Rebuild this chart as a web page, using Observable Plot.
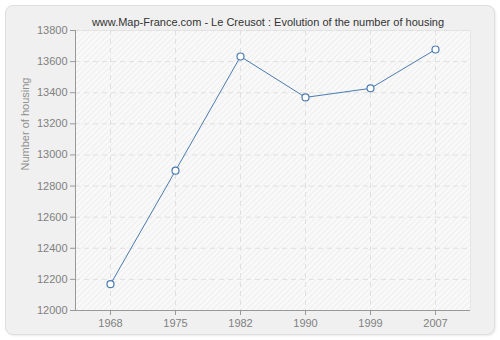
<!DOCTYPE html>
<html><head><meta charset="utf-8">
<script src="https://cdn.jsdelivr.net/npm/d3@7"></script>
<script src="https://cdn.jsdelivr.net/npm/@observablehq/plot@0.6"></script>
<style>
html,body{margin:0;padding:0;background:#fff;}
#wrap{position:relative;width:500px;height:340px;overflow:hidden;}
#panel{position:absolute;left:5px;top:5px;width:490px;height:330px;background:#f0f0f0;border:1px solid #dedede;border-radius:8px;box-sizing:border-box;box-shadow:1px 1px 2px rgba(0,0,0,0.08);}
#chart{position:absolute;left:0;top:0;}
</style>
</head><body>
<div id="wrap"><div id="panel"></div><div id="chart"></div></div>
<script>
const years = ["1968", "1975", "1982", "1990", "1999", "2007"];
const housing = [12169, 12899, 13633, 13370, 13428, 13678];
const yTicks = [12000, 12200, 12400, 12600, 12800, 13000, 13200, 13400, 13600, 13800];
const title = "www.Map-France.com - Le Creusot : Evolution of the number of housing";
const yLabel = "Number of housing";

const data = years.map((y, i) => ({year: y, value: housing[i]}));
const lineColor = "#4b7bb0";
const font = "'Liberation Sans', Arial, sans-serif";

const leftAxisLine = (index, scales, values, dims) => {
  const g = d3.create("svg:g");
  g.append("line")
    .attr("x1", dims.marginLeft + 0.5).attr("x2", dims.marginLeft + 0.5)
    .attr("y1", dims.marginTop).attr("y2", dims.height - dims.marginBottom)
    .attr("stroke", "#999");
  return g.node();
};

const chart = Plot.plot({
  width: 500, height: 340,
  marginLeft: 75, marginRight: 30, marginTop: 30, marginBottom: 30,
  style: {background: "transparent", fontFamily: font, fontSize: "11px", color: "#808080"},
  x: {type: "point", domain: years, padding: 0.5, label: null},
  y: {domain: [12000, 13800], label: null},
  marks: [
    Plot.frame({fill: "url(#hatch)", stroke: "#e6e6e6"}),
    Plot.gridX(years, {stroke: "#e0e0e0", strokeOpacity: 1, strokeDasharray: "5,4"}),
    Plot.gridY(yTicks, {stroke: "#e0e0e0", strokeOpacity: 1, strokeDasharray: "5,4"}),
    Plot.ruleY([12000], {stroke: "#999"}),
    leftAxisLine,
    Plot.axisX({tickSize: 5, tickPadding: 4, stroke: "#999", fill: "#808080", fontSize: 11}),
    Plot.axisY(yTicks, {tickSize: 5, tickPadding: 3, stroke: "#999", fill: "#808080", fontSize: 11, tickFormat: d => String(d)}),
    Plot.line(data, {x: "year", y: "value", stroke: lineColor, strokeWidth: 1}),
    Plot.dot(data, {x: "year", y: "value", r: 3.5, fill: "#fff", stroke: lineColor, strokeWidth: 1.2}),
    Plot.text([title], {frameAnchor: "top", dx: -5, dy: -12, fill: "#333", fontSize: 11}),
    Plot.text([yLabel], {frameAnchor: "left", dx: -50, rotate: -90, fill: "#909090", fontSize: 11})
  ]
});

const svg = d3.select(chart);
const defs = svg.insert("defs", ":first-child");
const pat = defs.append("pattern").attr("id", "hatch")
  .attr("patternUnits", "userSpaceOnUse").attr("width", 4).attr("height", 4)
  .attr("patternTransform", "rotate(45)");
pat.append("rect").attr("width", 4).attr("height", 4).attr("fill", "#f9f9f9");
pat.append("line").attr("x1", 0.5).attr("x2", 0.5).attr("y1", 0).attr("y2", 4)
  .attr("stroke", "#eeeeee").attr("stroke-width", 1);

document.getElementById("chart").appendChild(chart);
</script>
</body></html>
